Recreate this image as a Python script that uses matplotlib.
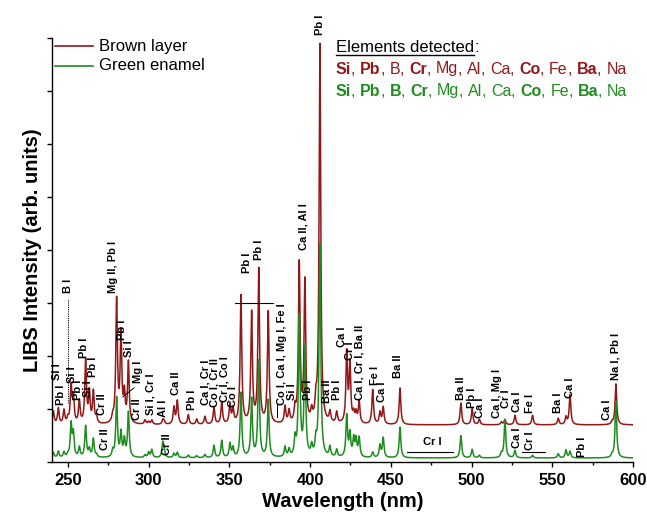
import numpy as np
import matplotlib
matplotlib.use("Agg")
import matplotlib.pyplot as plt
from matplotlib.lines import Line2D

plt.rcParams['font.family'] = ['Liberation Sans', 'DejaVu Sans']

# Emission lines (nm) and peak heights above each spectrum's baseline
line_nm = [241.0, 244.1, 247.6, 250.0, 252.0, 253.4, 257.1, 261.0, 263.3, 265.8,
           267.7, 277.8, 280.2, 282.9, 285.0, 287.5, 297.8, 300.0, 302.0, 308.8,
           309.6, 315.7, 317.8, 324.6, 329.8, 334.9, 340.5, 345.3, 350.4, 352.3,
           357.2, 363.8, 368.2, 374.1, 384.5, 387.0, 390.7, 393.3, 396.8, 401.0,
           403.6, 406.1, 412.3, 416.5, 422.7, 424.7, 427.0, 428.5, 430.4, 438.8,
           443.3, 445.3, 455.7, 493.4, 500.4, 504.8, 518.5, 520.7, 526.9, 537.8,
           553.7, 558.5, 561.0, 587.0, 589.4]
brown_h = [0.25, 0.30, 0.26, 0.10, 0.70, 0.48, 0.43, 1.20, 0.58, 0.60,
           0.12, 0.10, 2.32, 1.66, 0.52, 1.15, 0.08, 0.05, 0.08, 0.08,
           0.06, 0.32, 0.44, 0.18, 0.10, 0.15, 0.32, 0.41, 0.37, 0.27,
           2.42, 2.08, 2.90, 2.11, 0.32, 0.23, 0.25, 3.00, 2.66, 0.19,
           0.32, 7.16, 0.20, 0.21, 1.32, 1.10, 0.17, 0.19, 0.42, 0.65,
           0.22, 0.32, 0.69, 0.41, 0.30, 0.10, 0.05, 0.10, 0.18, 0.18,
           0.12, 0.14, 0.56, 0.05, 0.77]
green_h = [0.10, 0.12, 0.10, 0.05, 0.62, 0.44, 0.19, 0.59, 0.15, 0.35,
           0.05, 0.12, 1.12, 0.45, 0.32, 0.85, 0.05, 0.10, 0.15, 0.27,
           0.12, 0.08, 0.10, 0.05, 0.04, 0.06, 0.23, 0.32, 0.26, 0.18,
           1.22, 1.10, 1.82, 1.08, 0.19, 0.14, 0.32, 2.64, 2.03, 0.18,
           0.26, 4.02, 0.19, 0.14, 0.78, 0.43, 0.34, 0.32, 0.36, 0.10,
           0.23, 0.37, 0.58, 0.42, 0.16, 0.05, 0.08, 0.72, 0.14, 0.05,
           0.08, 0.15, 0.12, 0.05, 1.07]
brown_offset = 0.70
green_offset = 0.075

# Line identifications: (text, wavelength, bottom of label)
brown_labels = [
    ("Si I", 243.1, 1.55), ("Pb I", 245.6, 1.08), ("Si I", 252.4, 1.49),
    ("Pb I", 256.1, 1.17), ("Pb I", 260.0, 1.96), ("Si I", 262.3, 1.23),
    ("Pb I", 265.8, 1.60), ("Cr II", 271.0, 0.89), ("Mg II, Pb I", 278.0, 3.19),
    ("Pb I", 283.3, 2.30), ("Si I", 287.9, 1.98), ("Mg I", 293.3, 1.49),
    ("Cr II", 292.6, 0.79), ("Si I, Cr I", 300.9, 0.89), ("Al I", 308.9, 0.85),
    ("Ca II", 317.0, 1.26), ("Pb I", 326.9, 0.98), ("Ca I, Cr I", 335.3, 1.08),
    ("Co I, Cr II", 340.6, 1.04), ("Cr I, Co I", 346.8, 1.13), ("Co I", 352.4, 1.04),
    ("Pb I", 360.8, 3.57), ("Pb I", 368.3, 3.81), ("Co I, Ca I, Mg I, Fe I", 382.6, 1.08),
    ("Si I", 388.8, 1.17), ("Ca II, Al I", 395.8, 4.00), ("Pb I", 398.7, 1.17),
    ("Pb I", 406.1, 8.06), ("Ba II", 410.5, 1.11), ("Pb I", 416.7, 1.17),
    ("Ca I", 419.8, 2.17), ("Cr I", 425.0, 1.92), ("Ca I, Cr I, Ba II", 430.7, 1.17),
    ("Fe I", 440.0, 1.45), ("Ca I", 444.5, 1.13), ("Ba II", 454.4, 1.58),
    ("Ba II", 493.4, 1.17), ("Pb I", 500.0, 1.02), ("Ca I", 505.2, 0.83),
    ("Ca I, Mg I", 515.5, 0.83), ("Cr I", 521.5, 1.02), ("Ca I", 528.1, 0.94),
    ("Fe I", 536.2, 0.92), ("Ba I", 553.5, 0.92), ("Ca I", 560.9, 1.21),
    ("Ca I", 583.8, 0.79), ("Na I, Pb I", 589.4, 1.55), ("B I", 249.9, 3.19),
]
green_labels = [
    ("Cr II", 273.0, 0.23), ("Cr II", 311.4, 0.13), ("Ca I", 528.1, 0.26),
    ("Cr I", 536.2, 0.23), ("Pb I", 568.4, 0.09),
]

brown_color = '#921818'
green_color = '#1E8C1E'

wl = np.linspace(240, 600, 9001)
hwhm = 0.6


def spectrum(heights, offset):
    y = np.full_like(wl, offset)
    for c, h in zip(line_nm, heights):
        y += h / (1.0 + ((wl - c) / hwhm) ** 2)
    return y


fig = plt.figure(figsize=(6.47, 5.20), dpi=100)
ax = fig.add_axes([51.7 / 647, 58 / 520, (633 - 51.7) / 647, (462 - 38) / 520])

ax.plot(wl, spectrum(brown_h, brown_offset), color=brown_color, lw=1.1)
ax.plot(wl, spectrum(green_h, green_offset), color=green_color, lw=1.1)

ax.set_xlim(240, 600)
ax.set_ylim(0, 8)
ax.set_xticks(np.arange(250, 601, 50))
ax.set_xticks(np.arange(275, 600, 50), minor=True)
ax.set_yticks(np.arange(0, 9, 1))
ax.set_yticklabels([])
for s in ('top', 'right'):
    ax.spines[s].set_visible(False)
for s in ('left', 'bottom'):
    ax.spines[s].set_linewidth(1.0)
ax.tick_params(direction='out', length=3.8, width=1.0, labelsize=12, pad=4)
ax.tick_params(which='minor', direction='out', length=2.5, width=1.0)
for lab in ax.get_xticklabels():
    lab.set_fontweight('bold')
ax.set_xlabel("Wavelength (nm)", fontsize=14.5, fontweight='bold', labelpad=3)
ax.set_ylabel("LIBS Intensity (arb. units)", fontsize=14.5, fontweight='bold', labelpad=-1)

for text, x, y in brown_labels + green_labels:
    ax.text(x, y, text, rotation=90, ha='center', va='bottom', fontsize=8.0,
            fontweight='bold', color='black', clip_on=False)

# guide marks
ax.plot([249.9, 249.9], [1.11, 3.08], color='black', lw=0.8, ls=(0, (1, 1)))
ax.plot([353.5, 377.1], [3.0, 3.0], color='black', lw=0.8)
ax.plot([284.1, 291.0], [1.23, 1.40], color='black', lw=0.7)
ax.plot([379.7, 379.7], [0.85, 1.1], color='black', lw=0.7)
ax.plot([460.0, 488.5], [0.19, 0.19], color='black', lw=0.8)
ax.text(475.5, 0.38, "Cr I", ha='center', va='center', fontsize=8.0, fontweight='bold')
ax.plot([531.1, 545.3], [0.19, 0.19], color='black', lw=0.8)

# legend
W, H = 647.0, 520.0
for yy, col, name in [(46, brown_color, "Brown layer"), (66, green_color, "Green enamel")]:
    fig.add_artist(Line2D([55 / W, 93 / W], [1 - yy / H, 1 - yy / H], color=col, lw=1.2))
    fig.text(99 / W, 1 - yy / H, name, fontsize=12, va='center', ha='left')

# element summary
head = fig.text(336 / W, 1 - 48 / H, "Elements detected", fontsize=12, va='center', ha='left')
ax.annotate(":", xy=(1, 0), xycoords=head, va='bottom', ha='left', fontsize=12,
            annotation_clip=False)
fig.canvas.draw()
bb = head.get_window_extent()
fig.add_artist(Line2D([bb.x0 / W, bb.x1 / W], [(bb.y0 + 1) / H, (bb.y0 + 1) / H],
                      color='black', lw=1.0))

elems = ["Si", "Pb", "B", "Cr", "Mg", "Al", "Ca", "Co", "Fe", "Ba", "Na"]
brown_bold = {"Si", "Pb", "Cr", "Co", "Ba"}
green_bold = {"Si", "Pb", "B", "Cr", "Co", "Ba"}

for yy, col, bold in [(69, brown_color, brown_bold), (91, green_color, green_bold)]:
    prev = None
    for i, el in enumerate(elems):
        parts = [(el, el in bold)]
        if i < len(elems) - 1:
            parts.append((", ", False))
        for txt, b in parts:
            w = 'bold' if b else 'normal'
            if prev is None:
                prev = fig.text(336 / W, 1 - yy / H, txt, fontsize=11.5, color=col,
                                fontweight=w, va='center', ha='left')
            else:
                prev = ax.annotate(txt, xy=(1, 0), xycoords=prev, va='bottom', ha='left',
                                   fontsize=11.5, color=col, fontweight=w,
                                   annotation_clip=False)

fig.savefig("out.png", dpi=100)
